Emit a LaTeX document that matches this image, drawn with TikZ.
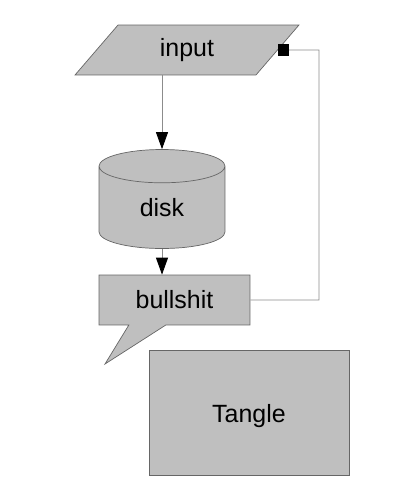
\documentclass[tikz,border=0pt]{standalone}
\usepackage{fontspec}
\setmainfont{Liberation Sans}
\usetikzlibrary{shapes.geometric,shapes.callouts,arrows.meta}

\tikzset{
  box/.style={draw=gray!80!black, fill=gray!50, inner sep=0pt,
    font=\fontsize{14.2}{17}\selectfont},
  flow/.style={draw=gray!90, line width=0.5pt},
}

\begin{document}
\begin{tikzpicture}[x=0.02cm, y=-0.02cm]
    \useasboundingbox (0,0) rectangle (400,500);
    \node[box, trapezium, trapezium left angle=49.3, trapezium right angle=130.7,
      trapezium stretches body, text height=0.64cm, text depth=0.36cm,
      minimum width=4.48cm] (input) at (187,50) {input};
    \node[box, cylinder, shape border rotate=90, aspect=0.75,
      minimum width=2.52cm, minimum height=1.98cm] (disk) at (162,207.5) {disk};
    \node[box, rectangle callout, callout absolute pointer={(105,364)},
      callout pointer width=0.74cm, minimum width=3.02cm, minimum height=1cm] (bull) at (174.5,300) {bullshit};
    \node[box, rectangle, text height=0.48cm, text depth=0.1cm,
      minimum width=4cm, minimum height=2.5cm] (tangle) at (249,412.5) {Tangle};
    \draw[flow, -{Triangle[width=0.24cm, length=0.34cm, black]}] (disk.north |- input.south) -- (disk.north);
    \draw[flow, -{Triangle[width=0.24cm, length=0.34cm, black]}] (disk.south) -- (disk.south |- bull.north);
    \draw[flow, -{Square[width=0.22cm, length=0.22cm, black]}] (bull.east) -| (319,50) -- (input.east);
\end{tikzpicture}
\end{document}
